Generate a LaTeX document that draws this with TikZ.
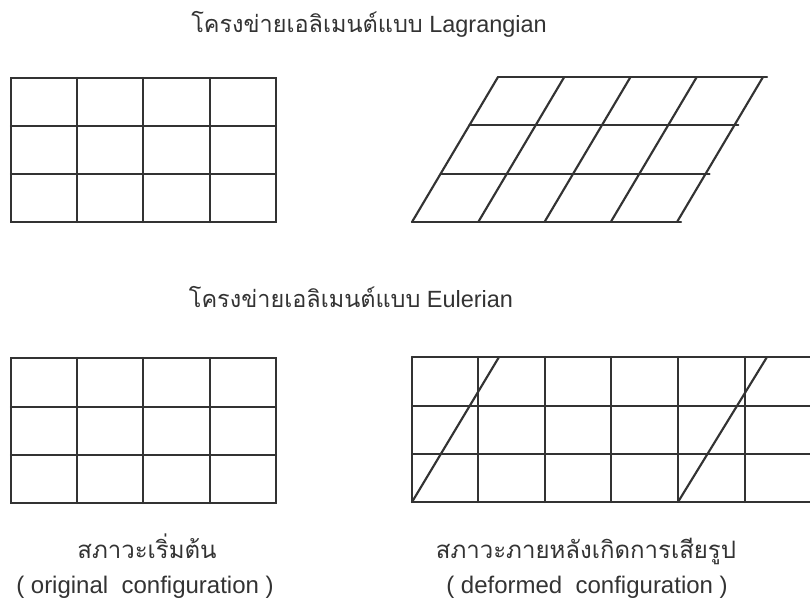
\documentclass[tikz,border=0pt]{standalone}
\usepackage{fontspec}
\setmainfont{Liberation Sans}
\newfontfamily\thaifont[Script=Thai]{Loma}
\tikzset{
  meshline/.style={line width=1.6pt,draw=black!80,line cap=round},
  ttl/.style={font=\fontsize{17.6}{20}\selectfont,text=black!80,anchor=base,inner sep=0pt},
  caplbl/.style={font=\fontsize{18}{21}\selectfont,text=black!80,anchor=base,inner sep=0pt}
}

\begin{document}
\begin{tikzpicture}[x=0.75pt,y=-0.75pt]
  \useasboundingbox (0,0) rectangle (810,614);

  % titles
  \node[ttl] (lagttl) at (369,32) {{\thaifont โครงข่ายเอลิเมนต์แบบ} Lagrangian};
  \node[ttl] (eulttl) at (351,307) {{\thaifont โครงข่ายเอลิเมนต์แบบ} Eulerian};

  % Lagrangian, original
  \draw[meshline] (11,78) rectangle (276,222);
  \foreach \x in {77,143,210} \draw[meshline] (\x,78) -- (\x,222);
  \foreach \y in {126,174} \draw[meshline] (11,\y) -- (276,\y);

  % Lagrangian, deformed (mesh moves with material)
  \foreach \i in {0,...,4}
    \draw[meshline] ({412+66.25*\i},222) -- ({498+66.25*\i},77);
  \foreach \j in {0,...,3}
    \draw[meshline] ({498-28.67*\j},{77+48.33*\j}) -- ({767-28.67*\j},{77+48.33*\j});

  % Eulerian, original
  \draw[meshline] (11,358) rectangle (276,503);
  \foreach \x in {77,143,210} \draw[meshline] (\x,358) -- (\x,503);
  \foreach \y in {407,455} \draw[meshline] (11,\y) -- (276,\y);

  % Eulerian, deformed (mesh fixed, material slants through it)
  \foreach \y in {357,406,454,502} \draw[meshline] (412,\y) -- (812,\y);
  \foreach \x in {412,478,545,611,678,745} \draw[meshline] (\x,357) -- (\x,502);
  \draw[meshline] (412,502) -- (499,357);
  \draw[meshline] (678,502) -- (767,357);

  % captions
  \node[caplbl] (orgth) at (147,558) {\thaifont สภาวะเริ่มต้น};
  \node[caplbl] (orgen) at (145,593) {( original\ \ configuration )};
  \node[caplbl] (defth) at (586,558) {\thaifont สภาวะภายหลังเกิดการเสียรูป};
  \node[caplbl] (defen) at (587,593) {( deformed\ \ configuration )};
\end{tikzpicture}
\end{document}
